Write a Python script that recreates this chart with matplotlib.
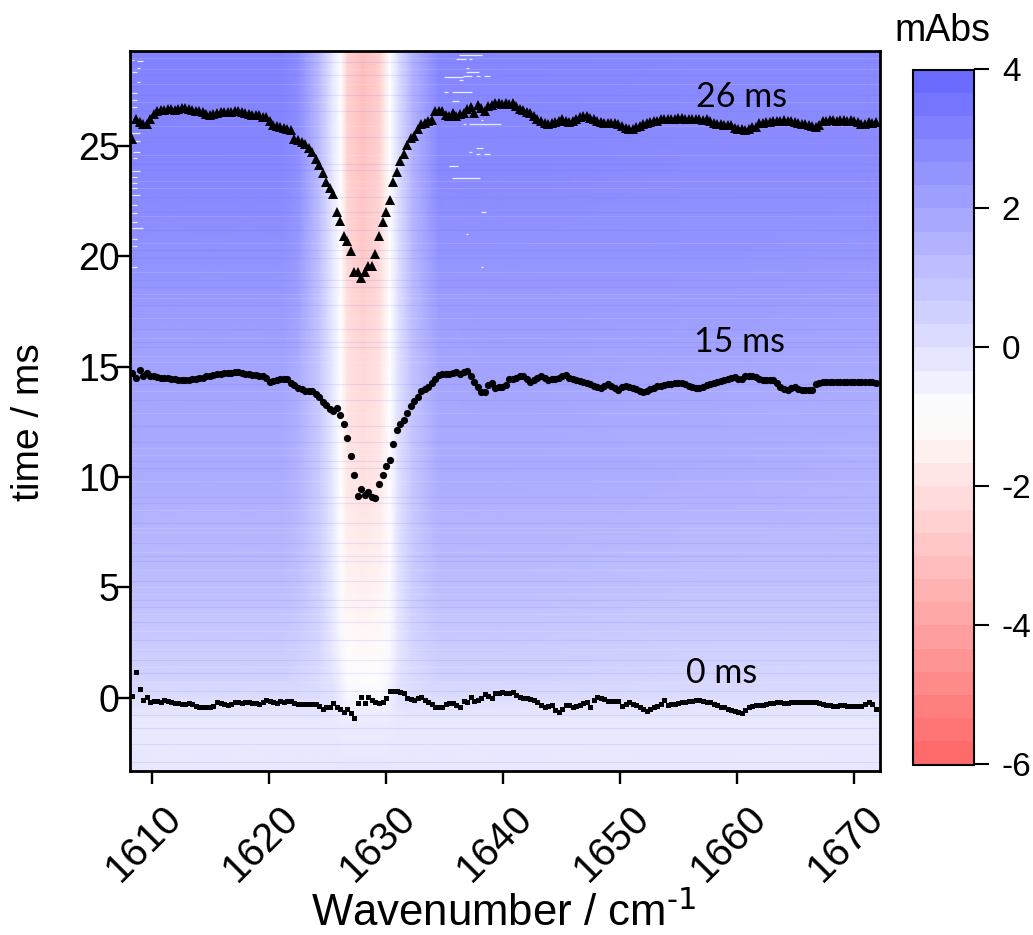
"""Time resolved IR difference map with three traces of the bleach position."""

import numpy as np
import matplotlib
matplotlib.use("Agg")
import matplotlib.pyplot as plt
from matplotlib.cm import ScalarMappable
from matplotlib.colors import LinearSegmentedColormap, Normalize
from matplotlib.transforms import ScaledTranslation

plt.rcParams['font.family'] = ['Liberation Sans', 'DejaVu Sans']
plt.rcParams['mathtext.default'] = 'regular'
plt.rcParams['axes.unicode_minus'] = False

# map values (mAbs), read on a coarse grid
map_wn = [1608.1, 1615, 1621, 1622.5, 1624.3, 1625.4, 1626.1, 1626.7, 1628,
          1629.4, 1630.3, 1631, 1632.2, 1634.5, 1640, 1655, 1672.2]
map_t = [-3.35, -1.2, -0.6, 0, 0.8, 2, 5, 10, 15, 20, 24, 29.3]
map_abs = [
    [-0.2, -0.2, -0.2, -0.2, -0.2, -0.2, -0.2, -0.2, -0.2, -0.2, -0.2, -0.2, -0.2, -0.2, -0.2, -0.2, -0.2],
    [-0.25, -0.25, -0.25, -0.25, -0.25, -0.25, -0.3, -0.3, -0.3, -0.3, -0.3, -0.25, -0.25, -0.25, -0.25, -0.25, -0.25],
    [-0.1, -0.1, -0.1, -0.1, -0.1, -0.15, -0.3, -0.4, -0.45, -0.45, -0.35, -0.15, -0.1, -0.1, -0.1, -0.1, -0.1],
    [0.2, 0.2, 0.2, 0.15, 0.1, 0.0, -0.3, -0.7, -0.8, -0.8, -0.5, 0.0, 0.1, 0.2, 0.2, 0.15, 0.15],
    [0.45, 0.45, 0.45, 0.4, 0.2, -0.1, -0.5, -0.85, -0.95, -0.95, -0.65, -0.1, 0.2, 0.45, 0.45, 0.4, 0.4],
    [0.7, 0.7, 0.7, 0.6, 0.3, -0.2, -0.7, -1.1, -1.2, -1.1, -0.8, -0.2, 0.35, 0.7, 0.7, 0.6, 0.6],
    [1.2, 1.2, 1.2, 1.05, 0.5, -0.2, -0.9, -1.4, -1.5, -1.4, -0.9, -0.1, 0.65, 1.2, 1.2, 1.1, 1.1],
    [1.8, 1.8, 1.8, 1.5, 0.75, -0.15, -1.0, -1.8, -2.0, -1.8, -1.0, 0.0, 0.9, 1.8, 1.8, 1.7, 1.6],
    [2.1, 2.1, 2.1, 1.8, 0.85, -0.15, -1.0, -2.0, -2.3, -2.0, -1.0, 0.0, 1.05, 2.0, 2.1, 2.0, 1.9],
    [2.7, 2.7, 2.7, 2.4, 1.1, -0.15, -1.0, -2.3, -2.8, -2.3, -1.0, 0.05, 1.35, 2.6, 2.6, 2.6, 2.5],
    [3.1, 3.1, 3.1, 2.8, 1.25, -0.15, -1.0, -2.5, -3.0, -2.5, -1.0, 0.1, 1.5, 3.0, 3.0, 2.9, 2.9],
    [3.2, 3.2, 3.2, 2.9, 1.3, -0.15, -1.0, -2.6, -3.2, -2.7, -1.0, 0.1, 1.55, 3.1, 3.1, 3.0, 3.0],
]

# thin horizontal streaks in the map
streak_dark_t = [-2.9, -2.1, -1.4, -0.8, 0.3, 1.1, 1.7, 2.6, 3.4, 4.1, 4.4, 5.3, 6.2, 6.4, 7.0, 7.9, 8.8, 9.1,
                 10.4, 10.7, 11.6, 12.3, 13.5, 14.2, 15.9, 16.1, 16.7, 17.8, 18.6, 18.9, 19.9, 20.3, 21.2,
                 22.0, 22.7, 23.9, 24.2, 25.4, 26.6, 27.3, 28.2, 28.8]
streak_light_t = [-2.5, -1.8, -1.0, 0.7, 1.4, 2.2, 3.0, 3.8, 4.7, 5.0, 5.8, 6.6, 7.5, 7.7, 8.5, 9.8, 11.0, 11.3,
                  12.9, 13.9, 15.2, 15.5, 16.3, 17.2, 18.1, 18.3, 19.3, 20.6, 21.8, 23.1, 23.4, 24.6, 25.9,
                  27.0, 27.8, 28.5, 29.0]

# short white dropouts
glitch_t = [29.12, 28.93, 28.93, 28.52, 28.34, 28.1, 28.16, 28.16, 28.16, 27.98, 27.45, 27.45, 27.04,
            26.01, 26.01, 26.19, 24.91, 24.73, 24.63, 24.63, 24.08, 23.53, 22.0, 20.99, 19.51,
            28.85, 28.91, 28.55, 28.34, 27.9, 27.4, 27.08, 26.75, 25.57, 25.21, 24.73, 24.45, 23.88,
            23.58, 23.32, 23.09, 22.79, 22.31, 21.96, 21.54, 21.26, 20.8, 20.45, 19.51]
glitch_wn0 = [1636.23, 1635.95, 1637.08, 1636.8, 1636.8, 1634.95, 1636.52, 1637.71, 1638.36, 1636.23,
              1634.95, 1635.66, 1635.66, 1637.08, 1636.52, 1638.08, 1637.71, 1637.08, 1637.71, 1638.36,
              1635.38, 1635.66, 1638.08, 1636.8, 1638.08,
              1608.67, 1608.24, 1608.67, 1608.24, 1608.67, 1608.24, 1608.24, 1608.24, 1608.24, 1608.24,
              1608.38, 1608.38, 1608.24, 1608.24, 1608.24, 1608.24, 1608.24, 1608.24, 1608.24, 1608.24,
              1608.24, 1608.24, 1608.24, 1608.24]
glitch_wn1 = [1638.22, 1636.8, 1637.37, 1637.08, 1637.94, 1636.52, 1637.37, 1637.99, 1638.85, 1636.52,
              1635.24, 1637.37, 1636.23, 1639.78, 1636.8, 1638.28, 1638.28, 1637.37, 1637.99, 1638.85,
              1636.17, 1637.99, 1638.56, 1637.03, 1638.28,
              1609.24, 1608.45, 1608.95, 1608.67, 1608.95, 1608.67, 1608.67, 1608.67, 1608.95, 1608.95,
              1608.95, 1608.67, 1608.95, 1608.67, 1608.67, 1608.67, 1608.95, 1608.67, 1608.67, 1608.67,
              1609.24, 1608.67, 1608.67, 1608.67]

# traces share one wavenumber axis
wn_start = 1608.31
wn_step = 0.301

trace_26ms = [
    25.30, 26.20, 26.07, 26.00, 26.00, 26.20, 26.45, 26.60, 26.62, 26.62,
    26.66, 26.65, 26.64, 26.68, 26.70, 26.73, 26.68, 26.62, 26.60, 26.58,
    26.52, 26.44, 26.42, 26.46, 26.50, 26.52, 26.54, 26.55, 26.54, 26.57,
    26.56, 26.55, 26.50, 26.44, 26.42, 26.41, 26.40, 26.32, 26.30, 26.12,
    25.96, 25.92, 25.86, 25.82, 25.78, 25.72, 25.32, 25.25, 25.16, 25.08,
    24.90, 24.72, 24.42, 24.12, 23.78, 23.35, 23.08, 22.80, 22.00, 21.60,
    20.92, 20.67, 20.24, 19.27, 19.27, 19.00, 19.30, 19.54, 19.54, 20.08,
    20.90, 21.54, 22.00, 22.53, 23.37, 23.82, 24.32, 24.62, 25.06, 25.36,
    25.47, 25.77, 25.97, 26.04, 26.15, 26.19, 26.58, 26.60, 26.58, 26.40,
    26.35, 26.50, 26.35, 26.45, 26.50, 26.65, 26.78, 26.50, 26.85, 26.70,
    26.60, 26.80, 26.85, 26.95, 26.95, 26.92, 26.95, 26.92, 26.95, 26.80,
    26.67, 26.62, 26.55, 26.50, 26.35, 26.22, 26.12, 26.02, 26.00, 26.05,
    26.10, 26.15, 26.22, 26.12, 26.07, 26.15, 26.22, 26.30, 26.35, 26.35,
    26.28, 26.22, 26.15, 26.08, 26.05, 26.05, 26.02, 26.02, 26.00, 25.90,
    25.80, 25.76, 25.76, 25.85, 25.92, 26.00, 26.05, 26.08, 26.12, 26.12,
    26.20, 26.20, 26.20, 26.22, 26.22, 26.25, 26.27, 26.22, 26.20, 26.22,
    26.20, 26.20, 26.18, 26.20, 26.15, 26.05, 26.00, 25.98, 25.95, 25.95,
    25.93, 25.80, 25.78, 25.75, 25.70, 25.78, 25.85, 25.85, 26.05, 26.05,
    26.07, 26.10, 26.14, 26.14, 26.15, 26.18, 26.15, 26.12, 26.07, 26.03,
    25.98, 25.97, 25.95, 25.90, 25.85, 25.95, 26.14, 26.14, 26.16, 26.16,
    26.15, 26.17, 26.16, 26.14, 26.16, 26.15, 26.10, 25.97, 26.00, 26.08,
    26.03, 26.07]

trace_15ms = [
    14.70, 14.47, 14.85, 14.58, 14.70, 14.58, 14.58, 14.52, 14.50, 14.47,
    14.46, 14.44, 14.43, 14.41, 14.40, 14.40, 14.40, 14.42, 14.43, 14.46,
    14.50, 14.55, 14.58, 14.62, 14.67, 14.68, 14.70, 14.70, 14.72, 14.74,
    14.77, 14.72, 14.68, 14.65, 14.63, 14.61, 14.59, 14.55, 14.50, 14.32,
    14.35, 14.37, 14.42, 14.44, 14.42, 14.27, 14.15, 14.05, 13.96, 13.91,
    13.89, 13.87, 13.75, 13.61, 13.41, 13.25, 13.07, 13.00, 13.14, 12.81,
    12.40, 11.77, 10.96, 10.09, 9.14, 9.45, 9.18, 9.33, 9.10, 9.03,
    9.68, 10.09, 10.47, 10.77, 11.49, 12.13, 12.40, 12.58, 12.91, 13.19,
    13.46, 13.64, 13.87, 13.97, 14.09, 14.24, 14.43, 14.62, 14.67, 14.67,
    14.67, 14.70, 14.77, 14.67, 14.73, 14.80, 14.55, 14.32, 14.09, 13.84,
    13.84, 14.17, 14.24, 14.02, 14.09, 14.09, 14.17, 14.44, 14.42, 14.48,
    14.55, 14.58, 14.42, 14.28, 14.38, 14.50, 14.58, 14.48, 14.40, 14.42,
    14.43, 14.50, 14.58, 14.60, 14.50, 14.42, 14.38, 14.33, 14.30, 14.25,
    14.20, 14.12, 14.06, 14.02, 14.12, 14.22, 14.12, 14.03, 13.95, 14.06,
    14.13, 14.07, 14.02, 13.96, 13.88, 13.83, 13.90, 14.00, 14.05, 14.10,
    14.13, 14.17, 14.20, 14.22, 14.24, 14.26, 14.25, 14.20, 14.12, 14.06,
    14.02, 14.03, 14.08, 14.15, 14.20, 14.25, 14.30, 14.35, 14.40, 14.45,
    14.50, 14.52, 14.45, 14.42, 14.55, 14.58, 14.56, 14.52, 14.45, 14.40,
    14.37, 14.37, 14.37, 14.25, 14.07, 13.98, 13.94, 14.02, 14.07, 13.98,
    13.92, 13.92, 13.92, 13.95, 14.22, 14.27, 14.30, 14.32, 14.32, 14.30,
    14.29, 14.32, 14.30, 14.28, 14.30, 14.29, 14.31, 14.30, 14.28, 14.29,
    14.30, 14.27]

trace_0ms = [
    0.08, 1.14, 0.37, -0.11, 0.01, -0.19, -0.14, -0.14, -0.19, -0.11,
    -0.14, -0.19, -0.23, -0.27, -0.31, -0.31, -0.27, -0.31, -0.37, -0.42,
    -0.42, -0.42, -0.42, -0.39, -0.20, -0.27, -0.31, -0.34, -0.30, -0.22,
    -0.20, -0.27, -0.20, -0.19, -0.23, -0.27, -0.30, -0.19, -0.11, -0.16,
    -0.22, -0.23, -0.14, -0.19, -0.16, -0.16, -0.23, -0.30, -0.30, -0.28,
    -0.30, -0.30, -0.31, -0.39, -0.54, -0.45, -0.42, -0.27, -0.42, -0.54,
    -0.64, -0.54, -0.72, -0.92, -0.27, 0.01, -0.27, 0.04, -0.11, -0.19,
    -0.27, -0.19, -0.04, 0.30, 0.30, 0.30, 0.23, 0.19, -0.01, -0.08,
    -0.11, -0.04, 0.04, -0.11, -0.19, -0.30, -0.45, -0.45, -0.45, -0.30,
    -0.23, -0.27, -0.34, -0.42, -0.14, -0.19, 0.01, -0.14, -0.11, -0.04,
    0.16, 0.07, -0.04, 0.22, 0.22, 0.25, 0.22, 0.22, 0.26, 0.10,
    0.01, 0.00, -0.03, -0.05, -0.09, -0.20, -0.36, -0.42, -0.38, -0.36,
    -0.55, -0.65, -0.50, -0.36, -0.36, -0.42, -0.40, -0.36, -0.27, -0.22,
    -0.45, -0.10, 0.04, 0.00, -0.08, -0.14, -0.14, -0.14, -0.15, -0.38,
    -0.30, -0.20, -0.28, -0.36, -0.42, -0.50, -0.60, -0.52, -0.42, -0.38,
    -0.30, -0.12, -0.34, -0.30, -0.28, -0.24, -0.20, -0.19, -0.17, -0.14,
    -0.10, -0.10, -0.15, -0.19, -0.22, -0.28, -0.36, -0.42, -0.45, -0.50,
    -0.55, -0.60, -0.66, -0.69, -0.55, -0.42, -0.38, -0.36, -0.34, -0.34,
    -0.30, -0.27, -0.24, -0.22, -0.20, -0.24, -0.24, -0.22, -0.20, -0.20,
    -0.19, -0.22, -0.22, -0.22, -0.20, -0.24, -0.30, -0.33, -0.36, -0.38,
    -0.38, -0.36, -0.36, -0.38, -0.38, -0.39, -0.38, -0.38, -0.30, -0.20,
    -0.30, -0.50]

x_ticks = [1610, 1620, 1630, 1640, 1650, 1660, 1670]
y_ticks = [0, 5, 10, 15, 20, 25]
cbar_ticks = [-6, -4, -2, 0, 2, 4]
labels_text = ['26 ms', '15 ms', '0 ms']
labels_wn = [1660.4, 1660.2, 1658.7]
labels_t = [27.2, 16.1, 1.1]


def trace_axis(values):
    return wn_start + wn_step * np.arange(len(values))


w, h = 1033, 935
fig = plt.figure(figsize=(w / 100, h / 100), dpi=100)
ax = fig.add_axes([130 / w, 1 - 771 / h, 750 / w, 720 / h])
cax = fig.add_axes([912.5 / w, 1 - 764.5 / h, 61.5 / w, 695 / h])

cmap = LinearSegmentedColormap.from_list('rwb', ['#ff6b6b', '#ffffff', '#6b6bff'], N=256)
norm = Normalize(vmin=-6, vmax=4)

ax.pcolormesh(map_wn, map_t, np.array(map_abs), shading='gouraud', cmap=cmap, norm=norm, rasterized=True)
ax.hlines(streak_dark_t, 1608, 1673, colors='#6b6bff', linewidth=0.8, alpha=0.14)
ax.hlines(streak_light_t, 1608, 1673, colors='white', linewidth=0.8, alpha=0.12)
ax.hlines(glitch_t, glitch_wn0, glitch_wn1, colors='white', linewidth=0.9, alpha=0.85)

ax.plot(trace_axis(trace_26ms), trace_26ms, '^', color='black', markersize=7.0, markeredgewidth=0)
ax.plot(trace_axis(trace_15ms), trace_15ms, 'o', color='black', markersize=5.2, markeredgewidth=0)
ax.plot(trace_axis(trace_0ms), trace_0ms, 's', color='black', markersize=3.6, markeredgewidth=0)

for text, x, y in zip(labels_text, labels_wn, labels_t):
    ax.text(x, y, text, family=['Lato', 'DejaVu Sans'], fontsize=24.5, ha='center', va='center', color='black')

ax.set_xlim(1608.1, 1672.2)
ax.set_ylim(-3.33, 29.3)
ax.set_xticks(x_ticks)
ax.set_yticks(y_ticks)
ax.tick_params(axis='both', length=9.5, width=1.7)
ax.tick_params(axis='y', pad=-2, labelsize=27)
ax.tick_params(axis='x', pad=6, labelsize=29)
label_shift = ScaledTranslation(0.10, -0.06, fig.dpi_scale_trans)
for label in ax.get_xticklabels():
    label.set(rotation=45, ha='right', va='top', rotation_mode='anchor')
    label.set_transform(label.get_transform() + label_shift)
for spine in ax.spines.values():
    spine.set_linewidth(2.0)

fig.text(504 / w, 1 - 913 / h, 'Wavenumber / cm$^{\\text{-1}}$', fontsize=31.5, ha='center', va='center')
fig.text(29 / w, 1 - 422 / h, 'time / ms', fontsize=28, rotation=90, ha='center', va='center')

# colorbar with its stepped levels
cbar_cmap = LinearSegmentedColormap.from_list('rwb30', ['#ff6b6b', '#ffffff', '#6b6bff'], N=30)
cbar = fig.colorbar(ScalarMappable(norm=norm, cmap=cbar_cmap), cax=cax)
cbar.set_ticks(cbar_ticks)
cbar.ax.tick_params(length=11, width=1.5, labelsize=24, pad=9)
cbar.outline.set_linewidth(1.5)
fig.text(942 / w, 1 - 31 / h, 'mAbs', fontsize=27, ha='center', va='center')

fig.savefig('out.png', dpi=100)
plt.close(fig)
